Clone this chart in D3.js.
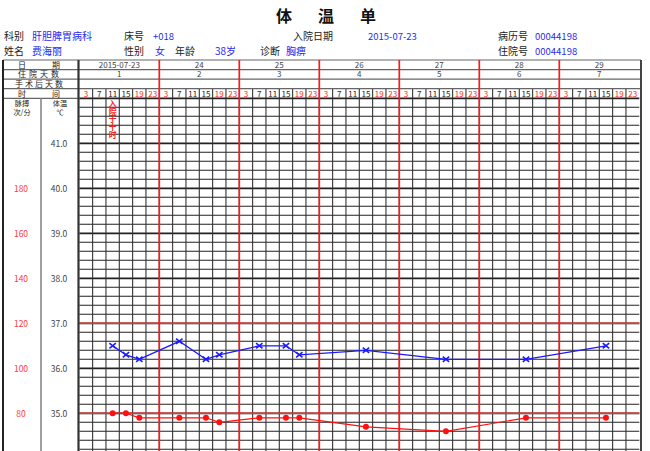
<!DOCTYPE html>
<html><head><meta charset="utf-8">
<script src="https://cdn.jsdelivr.net/npm/d3@7/dist/d3.min.js"></script>
<style>
html,body{margin:0;padding:0;background:#fff;}
svg{display:block;}
text{font-family:"Noto Sans CJK SC","DejaVu Sans",sans-serif;}
</style></head>
<body>
<svg id="c" width="650" height="451"></svg>
<script>
// ---- data ----
const title = ["体", "温", "单"];
const infoLabels = [
  {t:"科别", x:4, r:0}, {t:"床号", x:124, r:0}, {t:"入院日期", x:293, r:0}, {t:"病历号", x:498, r:0},
  {t:"姓名", x:4, r:1}, {t:"性别", x:124, r:1}, {t:"年龄", x:175, r:1}, {t:"诊断", x:260, r:1}, {t:"住院号", x:498, r:1}
];
const infoValues = [
  {t:"肝胆脾胃病科", x:32, r:0}, {t:"+018", x:153, r:0}, {t:"2015-07-23", x:368, r:0}, {t:"00044198", x:535, r:0},
  {t:"费海丽", x:32, r:1}, {t:"女", x:155, r:1}, {t:"38岁", x:215, r:1}, {t:"胸痹", x:286, r:1}, {t:"00044198", x:535, r:1}
];
const dates = ["2015-07-23", "24", "25", "26", "27", "28", "29"];
const hospDays = ["1", "2", "3", "4", "5", "6", "7"];
const hours = ["3", "7", "11", "15", "19", "23"];
const redHours = ["3", "19", "23"];
const tempTicks = [41, 40, 39, 38, 37, 36, 35];
const pulseTicks = [180, 160, 140, 120, 100, 80];
const admitNote = "入院于十时";
const admitCol = 2;
// column index (day*6 + slot) of each reading
const readCols = [2, 3, 4, 7, 9, 10, 13, 15, 16, 21, 27, 33, 39];
const tempVals = [36.5, 36.3, 36.2, 36.6, 36.2, 36.3, 36.5, 36.5, 36.3, 36.4, 36.2, 36.2, 36.5];
const pulseVals = [80, 80, 78, 78, 78, 76, 78, 78, 78, 74, 72, 78, 78];

// ---- layout ----
const svg = d3.select("#c");
const L = 3, R = 641, C1 = 41, G0 = 79.3, G1 = 639.3;
const nCols = dates.length * hours.length;
const x = d3.scaleLinear().domain([0, nCols]).range([G0, G1]);
const yT = d3.scaleLinear().domain([35, 42]).range([413.3, 98.3]);
const yP = d3.scaleLinear().domain([80, 180]).range([yT(35), yT(40)]);
const rowsY = [60, 69.6, 79.1, 88.7, yT(42)];
const bottom = yT(33.8);

svg.append("rect").attr("width", 650).attr("height", 451).attr("fill", "#fff");

// title
svg.append("g").selectAll("text").data(title).join("text")
  .attr("x", (d, i) => 284 + i * 42).attr("y", 22).attr("text-anchor", "middle")
  .attr("font-size", 16).attr("font-weight", "bold").attr("fill", "#111").text(d => d);

// patient info
const infoY = [40, 55];
const isNum = t => /^[0-9+\-]+$/.test(t);
svg.append("g").selectAll("text").data(infoLabels).join("text")
  .attr("x", d => d.x).attr("y", d => infoY[d.r]).attr("font-size", 10).attr("fill", "#222").text(d => d.t);
svg.append("g").selectAll("text").data(infoValues).join("text")
  .attr("x", d => d.x).attr("y", d => infoY[d.r]).attr("fill", "#2a2aee")
  .attr("font-family", d => isNum(d.t) ? "DejaVu Sans" : null).attr("font-size", d => isNum(d.t) ? 9.5 : 10)
  .text(d => d.t);

// ---- grid ----
const grid = svg.append("g");
const hLines = d3.range(0, Math.round((42 - 33.8) / 0.2) + 1).map(i => +(42 - i * 0.2).toFixed(1));
grid.selectAll("line.h").data(hLines).join("line").attr("class", "h")
  .attr("x1", G0).attr("x2", G1).attr("y1", d => yT(d)).attr("y2", d => yT(d))
  .attr("stroke", "#222").attr("stroke-width", d => Math.abs(d - Math.round(d)) < 1e-6 ? 1.8 : 1.05);
grid.selectAll("line.v").data(d3.range(1, nCols)).join("line").attr("class", "v")
  .attr("x1", d => x(d)).attr("x2", d => x(d)).attr("y1", rowsY[3]).attr("y2", bottom)
  .attr("stroke", "#333").attr("stroke-width", 1.1);
grid.selectAll("line.r").data([37, 35]).join("line").attr("class", "r")
  .attr("x1", G0).attr("x2", G1).attr("y1", d => yT(d)).attr("y2", d => yT(d))
  .attr("stroke", "#ff2a2a").attr("stroke-width", 1.6);

// header table lines
const hdr = svg.append("g");
hdr.selectAll("line.hr").data(rowsY.slice(0, 4)).join("line").attr("class", "hr")
  .attr("x1", L).attr("x2", R).attr("y1", d => d).attr("y2", d => d)
  .attr("stroke", "#666").attr("stroke-width", 1.2);
hdr.append("line").attr("x1", L).attr("x2", G0).attr("y1", rowsY[4]).attr("y2", rowsY[4])
  .attr("stroke", "#666").attr("stroke-width", 1.2);
[[L, "#222", 2], [C1, "#888", 1.6], [G0 - 0.8, "#333", 2.2], [R, "#444", 2]].forEach(([xx, c, w], i) => {
  hdr.append("line").attr("x1", xx).attr("x2", xx).attr("y1", i === 1 ? rowsY[4] : rowsY[0]).attr("y2", bottom)
    .attr("stroke", c).attr("stroke-width", w);
});
hdr.selectAll("line.day").data(d3.range(1, dates.length)).join("line").attr("class", "day")
  .attr("x1", d => x(d * hours.length)).attr("x2", d => x(d * hours.length))
  .attr("y1", rowsY[0]).attr("y2", bottom).attr("stroke", "#ff1a1a").attr("stroke-width", 1.7);

// header labels (left)
const mid = i => (rowsY[i] + rowsY[i + 1]) / 2;
const hl = svg.append("text").attr("fill", "#222").attr("font-size", 8).attr("text-anchor", "middle");
[["日", 22, 0], ["期", 56, 0], ["住院天数", 40, 1], ["手术后天数", 40, 2], ["时", 22, 3], ["间", 56, 3]].forEach(([t, xx, r]) => {
  hl.append("tspan").attr("x", xx).attr("y", mid(r) + 3).attr("letter-spacing", r === 1 ? 3 : (r === 2 ? 2 : 0)).text(t);
});
const pl = svg.append("text").attr("fill", "#222").attr("font-size", 7.2).attr("text-anchor", "middle");
pl.append("tspan").attr("x", 22).attr("y", 105.5).text("脉搏");
pl.append("tspan").attr("x", 22).attr("y", 115).text("次/分");
const tl = svg.append("text").attr("fill", "#222").attr("font-size", 7.2).attr("text-anchor", "middle");
tl.append("tspan").attr("x", 60).attr("y", 105.5).text("体温");
tl.append("tspan").attr("x", 60).attr("y", 115).text("℃");

// date row / hospital days row
const dayCenter = i => x(i * hours.length + hours.length / 2);
svg.append("g").selectAll("text").data(dates).join("text")
  .attr("x", (d, i) => dayCenter(i)).attr("y", mid(0) + 3).attr("text-anchor", "middle")
  .attr("font-family", "DejaVu Sans").attr("font-size", 8).attr("fill", "#444").text(d => d);
svg.append("g").selectAll("text").data(hospDays).join("text")
  .attr("x", (d, i) => dayCenter(i)).attr("y", mid(1) + 3).attr("text-anchor", "middle")
  .attr("font-family", "DejaVu Sans").attr("font-size", 8).attr("fill", "#444").text(d => d);
// time row
const timeCells = d3.range(nCols).map(i => ({col: i, h: hours[i % hours.length]}));
svg.append("g").selectAll("text").data(timeCells).join("text")
  .attr("x", d => x(d.col + 0.5)).attr("y", mid(3) + 3.3).attr("text-anchor", "middle")
  .attr("font-family", "DejaVu Sans").attr("font-size", 8)
  .attr("fill", d => redHours.includes(d.h) ? "#ff2020" : "#222").text(d => d.h);

// axis labels
svg.append("g").selectAll("text").data(tempTicks).join("text")
  .attr("x", 59).attr("y", d => yT(d)).attr("dominant-baseline", "central").attr("text-anchor", "middle")
  .attr("font-family", "DejaVu Sans").attr("font-size", 8.5).attr("fill", "#444").text(d => d.toFixed(1));
svg.append("g").selectAll("text").data(pulseTicks).join("text")
  .attr("x", 21).attr("y", d => yP(d)).attr("dominant-baseline", "central").attr("text-anchor", "middle")
  .attr("font-family", "DejaVu Sans").attr("font-size", 8.5).attr("fill", "#ff3b3b").text(d => d);

// admission note (vertical text)
svg.append("text").attr("x", x(admitCol + 0.5)).attr("y", 100)
  .attr("writing-mode", "vertical-rl").attr("font-size", 7.8).attr("font-weight", "bold")
  .attr("fill", "#ff2020").text(admitNote);

// ---- series ----
const temps = readCols.map((c, i) => ({c, v: tempVals[i]}));
const pulses = readCols.map((c, i) => ({c, v: pulseVals[i]}));
const px = d => x(d.c + 0.5);

svg.append("path").datum(pulses)
  .attr("d", d3.line().x(px).y(d => yP(d.v)))
  .attr("fill", "none").attr("stroke", "#ff1010").attr("stroke-width", 1.2);
svg.append("g").selectAll("circle").data(pulses).join("circle")
  .attr("cx", px).attr("cy", d => yP(d.v)).attr("r", 3).attr("fill", "#ff1010");

svg.append("path").datum(temps)
  .attr("d", d3.line().x(px).y(d => yT(d.v)))
  .attr("fill", "none").attr("stroke", "#1a1aff").attr("stroke-width", 1.3);
const s = 3.2;
svg.append("g").selectAll("path").data(temps).join("path")
  .attr("d", d => { const cx = px(d), cy = yT(d.v); return `M${cx - s},${cy - s * 0.8}L${cx + s},${cy + s * 0.8}M${cx - s},${cy + s * 0.8}L${cx + s},${cy - s * 0.8}`; })
  .attr("stroke", "#1a1aff").attr("stroke-width", 1.6).attr("fill", "none");
</script>
</body></html>
